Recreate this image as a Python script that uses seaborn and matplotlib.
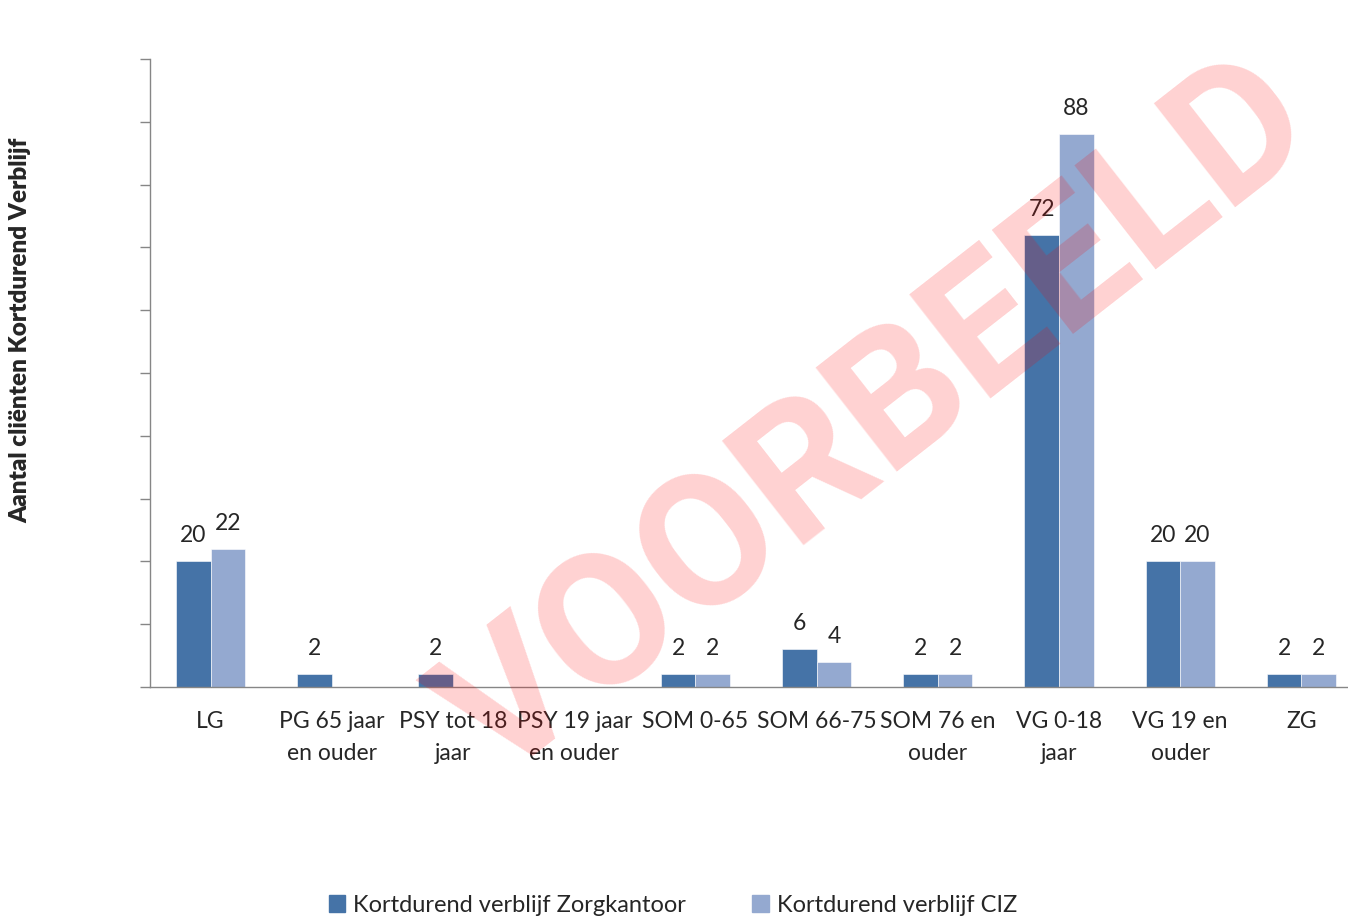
import numpy as np
import pandas as pd
import matplotlib
matplotlib.use("Agg")
import matplotlib.pyplot as plt
import seaborn as sns

# ─── Data ─────────────────────────────────────────────────────────────────────
categories = [
    "LG", "PG 65 jaar\nen ouder", "PSY tot 18\njaar", "PSY 19 jaar\nen ouder",
    "SOM 0-65", "SOM 66-75", "SOM 76 en\nouder", "VG 0-18\njaar",
    "VG 19 en\nouder", "ZG",
]
zorgkantoor = [20, 2, 2, 0, 2, 6, 2, 72, 20, 2]
ciz         = [22, 0, 0, 0, 2, 4, 2, 88, 20, 2]
series      = ["Kortdurend verblijf Zorgkantoor", "Kortdurend verblijf CIZ"]
colors      = ["#4573A7", "#94A9D0"]

df = pd.DataFrame({
    "categorie": categories * 2,
    "aantal":    zorgkantoor + ciz,
    "reeks":     [series[0]] * len(categories) + [series[1]] * len(categories),
})

# ─── Style ────────────────────────────────────────────────────────────────────
sns.set_style("white")
plt.rcParams["font.family"] = ["Lato", "DejaVu Sans"]
GREY = "#868686"
FS = 16.5

fig = plt.figure(figsize=(13.48, 9.18), dpi=100)
ax = fig.add_axes([150 / 1348, 1 - 687 / 918, 1212 / 1348, 628 / 918])

sns.barplot(
    data=df, x="categorie", y="aantal", hue="reeks",
    palette=colors, width=0.57, saturation=1, ax=ax,
    edgecolor="white", linewidth=0.4, legend=False,
)

# value labels, no label where there is no bar
for cont in ax.containers:
    labels = [f"{int(v)}" if v > 0 else "" for v in cont.datavalues]
    ax.bar_label(cont, labels=labels, padding=11, fontsize=FS)

# ─── Axes ─────────────────────────────────────────────────────────────────────
ax.set_ylim(0, 100)
ax.set_yticks(np.arange(0, 101, 10))
ax.set_yticklabels([])
ax.set_xlim(-0.5, len(categories) - 0.5)
ax.set_xticks(np.arange(-0.5, len(categories), 1), minor=True)
ax.tick_params(axis="x", which="major", length=0, pad=17, labelsize=FS)
ax.tick_params(axis="x", which="minor", length=7, color=GREY, width=1, direction="out")
ax.tick_params(axis="y", length=7, color=GREY, width=1, direction="out", left=True)
for lab in ax.get_xticklabels():
    lab.set_linespacing(1.65)
ax.set_xlabel("")
ax.set_ylabel("")

for side in ["top", "right"]:
    ax.spines[side].set_visible(False)
for side in ["left", "bottom"]:
    ax.spines[side].set_color(GREY)
    ax.spines[side].set_linewidth(1)

fig.text(20 / 1348, 1 - 330 / 918, "Aantal cliënten Kortdurend Verblijf",
         rotation=90, ha="center", va="center", fontsize=17.5, fontweight="heavy")

# ─── Legend ───────────────────────────────────────────────────────────────────
handles = [plt.Rectangle((0, 0), 1, 1, color=c) for c in colors]
fig.legend(handles, series, loc="center", bbox_to_anchor=(673 / 1348, 1 - 905 / 918),
           ncol=2, frameon=False, fontsize=17, handlelength=0.7, handleheight=0.7,
           handletextpad=0.35, columnspacing=2.8)

# ─── Watermark ────────────────────────────────────────────────────────────────
fig.text(878 / 1348, 1 - 422 / 918, "VOORBEELD", rotation=38,
         ha="center", va="center", fontsize=134, fontweight="bold",
         color="red", alpha=0.18, zorder=10, family=["Roboto", "DejaVu Sans"])

plt.savefig("out.png", dpi=100)
plt.close()
